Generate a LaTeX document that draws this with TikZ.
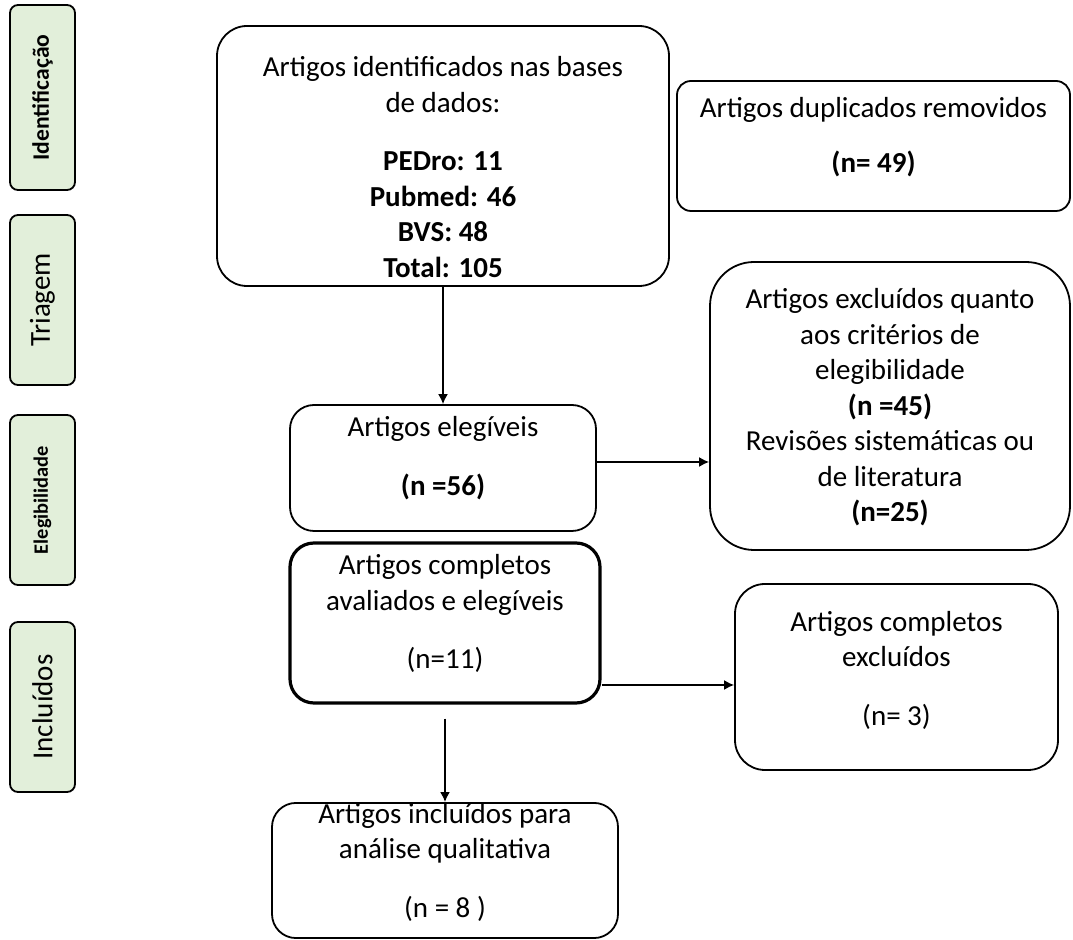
\documentclass[tikz,border=0pt]{standalone}
\usepackage{fontspec}
\setmainfont{Carlito}
\usetikzlibrary{positioning, arrows.meta, calc}
\definecolor{stagegreen}{HTML}{E2EFDA}

\begin{document}
\begin{tikzpicture}[
    x=0.5pt, y=-0.5pt,
    flowbox/.style={draw, line width=0.9pt, rectangle, align=center, fill=white, inner sep=0pt, font=\fontsize{14.5}{17.75}\selectfont},
    stagebox/.style={draw, line width=0.9pt, rectangle, rounded corners=4pt, fill=stagegreen, rotate=90, minimum width=#1, minimum height=32.5pt, inner sep=0pt},
    arrow/.style={-{Latex[length=5pt,width=5pt]}, line width=0.8pt}
]
    \useasboundingbox (0,0) rectangle (1073,940);

    % --- Stage labels ---
    \node[stagebox=92.5pt, font=\fontsize{11.8}{14}\selectfont\bfseries] (sIdent) at (42.5,97.5) {Identificação};
    \node[stagebox=85pt, font=\fontsize{14.5}{17}\selectfont] (sTriag) at (42.5,300) {Triagem};
    \node[stagebox=85pt, font=\fontsize{10.2}{12}\selectfont\bfseries] (sEleg) at (42.5,500) {Elegibilidade};
    \node[stagebox=85pt, font=\fontsize{14.5}{17}\selectfont] (sIncl) at (42.5,707) {Incluídos};

    % --- Main flow ---
    \node[flowbox, minimum width=226pt, minimum height=130pt, rounded corners=15pt, text height=121.6pt] (ident) at (443,156)
        {Artigos identificados nas bases\\ de dados:\\[11.5pt] \textbf{PEDro: 11}\\ \textbf{Pubmed: 46}\\ \textbf{BVS: 48}\\ \textbf{Total: 105}};
    \node[flowbox, minimum width=153pt, minimum height=63pt, rounded corners=12pt, text depth=12pt] (eleg) at (443,468)
        {Artigos elegíveis\\[11.5pt] \textbf{(n =56)}};
    \node[flowbox, line width=1.6pt, minimum width=155pt, minimum height=80pt, rounded corners=12pt, text depth=11.5pt] (comp) at (445,623)
        {Artigos completos\\ avaliados e elegíveis\\[11.5pt] (n=11)};
    \node[flowbox, minimum width=173pt, minimum height=67.5pt, rounded corners=12pt, text depth=10.5pt] (final) at (445,870.5)
        {Artigos incluídos para\\ análise qualitativa\\[11.5pt] (n = 8 )};

    % --- Excluded ---
    \node[flowbox, minimum width=196.5pt, minimum height=65pt, rounded corners=7pt, text depth=11pt] (dup) at (873.5,146)
        {Artigos duplicados removidos\\[10pt] \textbf{(n= 49)}};
    \node[flowbox, minimum width=180pt, minimum height=144pt, rounded corners=22pt, text depth=1pt] (excl) at (890,406)
        {Artigos excluídos quanto\\ aos critérios de\\ elegibilidade\\ \textbf{(n =45)}\\ Revisões sistemáticas ou\\ de literatura\\ \textbf{(n=25)}};
    \node[flowbox, minimum width=161.5pt, minimum height=93pt, rounded corners=15pt, text depth=9pt] (excl2) at (896.5,677)
        {Artigos completos\\ excluídos\\[11.5pt] (n= 3)};

    % Connectors
    \draw[arrow] (ident) -- (eleg);
    \draw[arrow] ([yshift=3pt]eleg.east) -- ([yshift=3pt]eleg.east -| excl.west);
    \draw[arrow] ([yshift=-31pt]comp.east) -- ([yshift=-31pt]comp.east -| excl2.west);
    \coordinate (gap) at ([yshift=-7pt]comp.south);
    \draw[arrow] (gap) -- (final.north);

\end{tikzpicture}
\end{document}
